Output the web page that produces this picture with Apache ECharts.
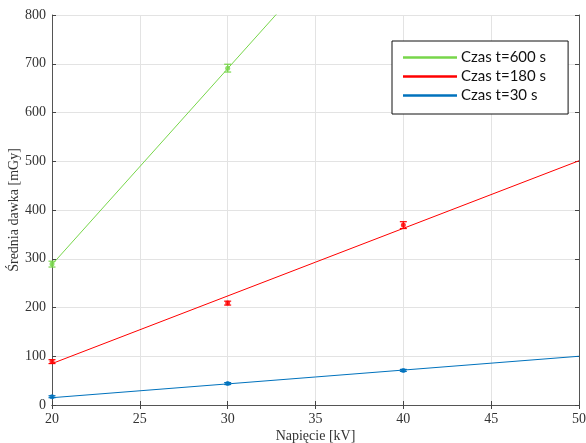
<!DOCTYPE html>
<html><head><meta charset="utf-8">
<script src="https://cdn.jsdelivr.net/npm/echarts@6/dist/echarts.min.js"></script>
<style>html,body{margin:0;padding:0;background:#fff}#c{width:586px;height:443px}</style>
</head><body><div id="c"></div>
<script>
var xTicks = [20, 25, 30, 35, 40, 45, 50];
var yTicks = [0, 100, 200, 300, 400, 500, 600, 700, 800];
var voltage = [20, 30, 40];
var dose600 = [289, 691];
var err600 = [6, 8];
var dose180 = [89, 209, 369];
var err180 = [4, 4, 7];
var dose30 = [17, 44, 71];
var err30 = [2, 2, 2];
var fitX = [20, 50];
var fit600 = [288, 1494];
var fit180 = [85, 501];
var fit30 = [15, 100];
var names = ['Czas t=600 s', 'Czas t=180 s', 'Czas t=30 s'];
var colors = ['#77d64a', '#ff0000', '#0072bd'];

var serif = '"Liberation Serif", "DejaVu Serif", serif';
function pts(d) { return d.map(function (v, i) { return [voltage[i], v]; }); }
function fit(d) { return d.map(function (v, i) { return [fitX[i], v]; }); }
function errs(d, e) { return d.map(function (v, i) { return [voltage[i], v - e[i], v + e[i]]; }); }
function errSeries(d, e, col) {
  return {
    type: 'custom', data: errs(d, e), encode: { x: 0, y: [1, 2] }, z: 5,
    renderItem: function (params, api) {
      var x = api.value(0);
      var a = api.coord([x, api.value(1)]);
      var b = api.coord([x, api.value(2)]);
      var w = 3.5;
      var st = { stroke: col, lineWidth: 1.2 };
      return { type: 'group', children: [
        { type: 'line', shape: { x1: a[0], y1: a[1], x2: b[0], y2: b[1] }, style: st },
        { type: 'line', shape: { x1: a[0] - w, y1: a[1], x2: a[0] + w, y2: a[1] }, style: st },
        { type: 'line', shape: { x1: b[0] - w, y1: b[1], x2: b[0] + w, y2: b[1] }, style: st }
      ] };
    }
  };
}
function scat(d, col) {
  return { type: 'scatter', data: pts(d), symbol: 'circle', symbolSize: 5, itemStyle: { color: col }, z: 6 };
}
function line(name, d, col) {
  return { name: name, type: 'line', data: fit(d), showSymbol: false, symbol: 'none', clip: true,
    lineStyle: { color: col, width: 1 }, itemStyle: { color: col }, z: 4 };
}
var axisLine = { show: true, lineStyle: { color: '#555', width: 1 } };
var tick = { show: true, inside: true, length: 4, lineStyle: { color: '#444' } };
var chart = echarts.init(document.getElementById('c'));
chart.setOption({
  animation: false,
  backgroundColor: '#fff',
  grid: { left: 52, right: 7, top: 15, bottom: 38, containLabel: false, outerBoundsMode: 'none' },
  legend: {
    data: names.map(function (n, i) { return { name: n, icon: 'rect', itemStyle: { color: colors[i] } }; }),
    orient: 'vertical', left: 392, top: 41,
    itemWidth: 54, itemHeight: 2.5, itemGap: 4,
    padding: [9, 22, 11, 11],
    borderColor: '#111', borderWidth: 1, backgroundColor: '#fff',
    textStyle: { fontFamily: 'Lato, "Open Sans", sans-serif', fontSize: 15, color: '#111', padding: [0, 0, 0, -1] },
    selectedMode: false
  },
  xAxis: [
    { type: 'value', min: 20, max: 50, interval: 5, axisLine: axisLine, axisTick: tick,
      splitLine: { show: true, lineStyle: { color: '#e3e3e3' } },
      axisLabel: { fontFamily: serif, fontSize: 14, color: '#333', margin: 7 },
      name: 'Napięcie [kV]', nameLocation: 'middle', nameGap: 24, nameMoveOverlap: false,
      nameTextStyle: { fontFamily: serif, fontSize: 14, color: '#333' } },
    { type: 'value', position: 'top', min: 20, max: 50, interval: 5, axisLine: axisLine, axisTick: tick,
      axisLabel: { show: false }, splitLine: { show: false } }
  ],
  yAxis: [
    { type: 'value', min: 0, max: 800, interval: 100, axisLine: axisLine, axisTick: tick,
      splitLine: { show: true, lineStyle: { color: '#e3e3e3' } },
      axisLabel: { fontFamily: serif, fontSize: 14, color: '#333', margin: 6 },
      name: 'Średnia dawka [mGy]', nameLocation: 'middle', nameGap: 31, nameRotate: 90, nameMoveOverlap: false,
      nameTextStyle: { fontFamily: serif, fontSize: 14, color: '#333' } },
    { type: 'value', position: 'right', min: 0, max: 800, interval: 100, axisLine: axisLine, axisTick: tick,
      axisLabel: { show: false }, splitLine: { show: false } }
  ],
  series: [
    line(names[0], fit600, colors[0]),
    line(names[1], fit180, colors[1]),
    line(names[2], fit30, colors[2]),
    errSeries(dose600, err600, colors[0]),
    errSeries(dose180, err180, colors[1]),
    errSeries(dose30, err30, colors[2]),
    scat(dose600, colors[0]),
    scat(dose180, colors[1]),
    scat(dose30, colors[2])
  ]
});
</script></body></html>
